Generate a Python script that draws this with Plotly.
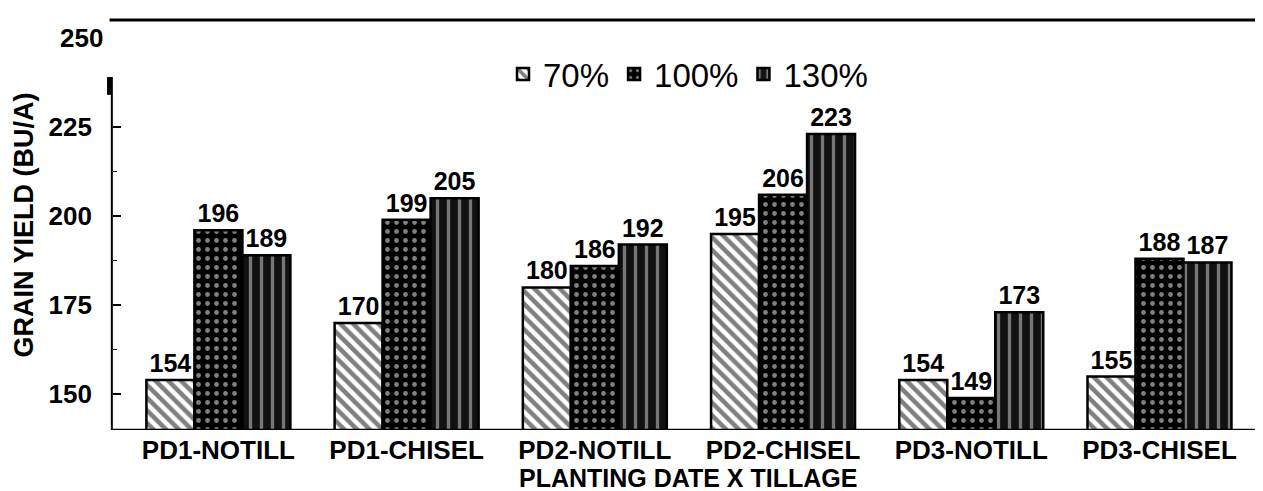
import plotly.graph_objects as go

categories = ["PD1-NOTILL", "PD1-CHISEL", "PD2-NOTILL", "PD2-CHISEL", "PD3-NOTILL", "PD3-CHISEL"]
series_names = ["70%", "100%", "130%"]
yield_70 = [154, 170, 180, 195, 154, 155]
yield_100 = [196, 199, 186, 206, 149, 188]
yield_130 = [189, 205, 192, 223, 173, 187]
y_ticks = [150, 175, 200, 225]
y_minor = [162.5, 187.5, 212.5]

FONT = "Liberation Sans, Arial, sans-serif"

patterns = [
    dict(shape="\\", bgcolor="white", fgcolor="black", size=9, solidity=0.5),
    dict(shape=".", bgcolor="black", fgcolor="white", size=9, solidity=0.22),
    dict(shape="|", bgcolor="#111111", fgcolor="#dddddd", size=11, solidity=0.3),
]

fig = go.Figure()
for name, vals, pat in zip(series_names, [yield_70, yield_100, yield_130], patterns):
    fig.add_trace(
        go.Bar(
            x=categories,
            y=vals,
            name=name,
            text=[str(v) for v in vals],
            textposition="outside",
            textfont=dict(family=FONT, size=25, color="black", weight="bold"),
            constraintext="none",
            cliponaxis=False,
            marker=dict(color="black", pattern=pat, line=dict(color="black", width=2.5)),
        )
    )

fig.update_layout(
    width=1263,
    height=491,
    margin=dict(l=105, r=8, t=12, b=69),
    paper_bgcolor="white",
    plot_bgcolor="white",
    barmode="group",
    bargap=0.235,
    bargroupgap=0,
    font=dict(family=FONT, color="black"),
    legend=dict(
        orientation="h",
        x=0.5,
        xanchor="center",
        y=0.868,
        yanchor="middle",
        font=dict(size=33, color="black"),
        itemwidth=30,
        bgcolor="rgba(0,0,0,0)",
    ),
    xaxis=dict(
        range=[-0.56, 5.55],
        automargin=False,
        showline=False,
        ticks="",
        ticklabelstandoff=2,
        tickfont=dict(size=26, weight="bold"),
        showgrid=False,
    ),
    yaxis=dict(
        range=[140, 255],
        automargin=False,
        tickvals=y_ticks,
        ticks="inside",
        ticklen=8,
        tickwidth=2,
        tickcolor="black",
        ticklabelstandoff=20,
        tickfont=dict(size=26, weight="bold"),
        minor=dict(tickvals=y_minor, ticks="inside", ticklen=4, tickcolor="black", tickwidth=1),
        showgrid=False,
        showline=False,
        zeroline=False,
        title=dict(text="GRAIN YIELD (BU/A)", font=dict(size=27, weight="bold"), standoff=7),
    ),
)

# frame pieces as drawn in the original scan
line = dict(color="black", width=3)
fig.add_shape(type="line", xref="paper", yref="paper", x0=-0.003, x1=1, y0=1, y1=1, line=line)
fig.add_shape(type="line", xref="paper", yref="paper", x0=1, x1=1, y0=0.01, y1=1, line=line)
fig.add_shape(type="line", xref="paper", yref="y", x0=0, x1=0.993, y0=140, y1=140,
              line=dict(color="black", width=2.5))
fig.add_shape(type="line", xref="paper", yref="y", x0=-0.001, x1=-0.001, y0=140, y1=239,
              line=dict(color="black", width=2))
fig.add_shape(type="line", xref="paper", yref="y", x0=-0.003, x1=-0.003, y0=234, y1=239,
              line=dict(color="black", width=5))

fig.add_annotation(
    x=0, xref="paper", xanchor="right", xshift=-8,
    y=250, yref="y", yanchor="middle",
    text="250", showarrow=False,
    font=dict(size=26, weight="bold", color="black"),
)

# x-axis title placed as an annotation so it sits close to the bottom edge like the scan
fig.add_annotation(
    x=0.5, xref="paper", xanchor="center",
    y=0, yref="paper", yanchor="bottom", yshift=-64,
    text="PLANTING DATE X TILLAGE", showarrow=False,
    font=dict(size=25, weight="bold", color="black"),
)

fig.write_html("out.html")
